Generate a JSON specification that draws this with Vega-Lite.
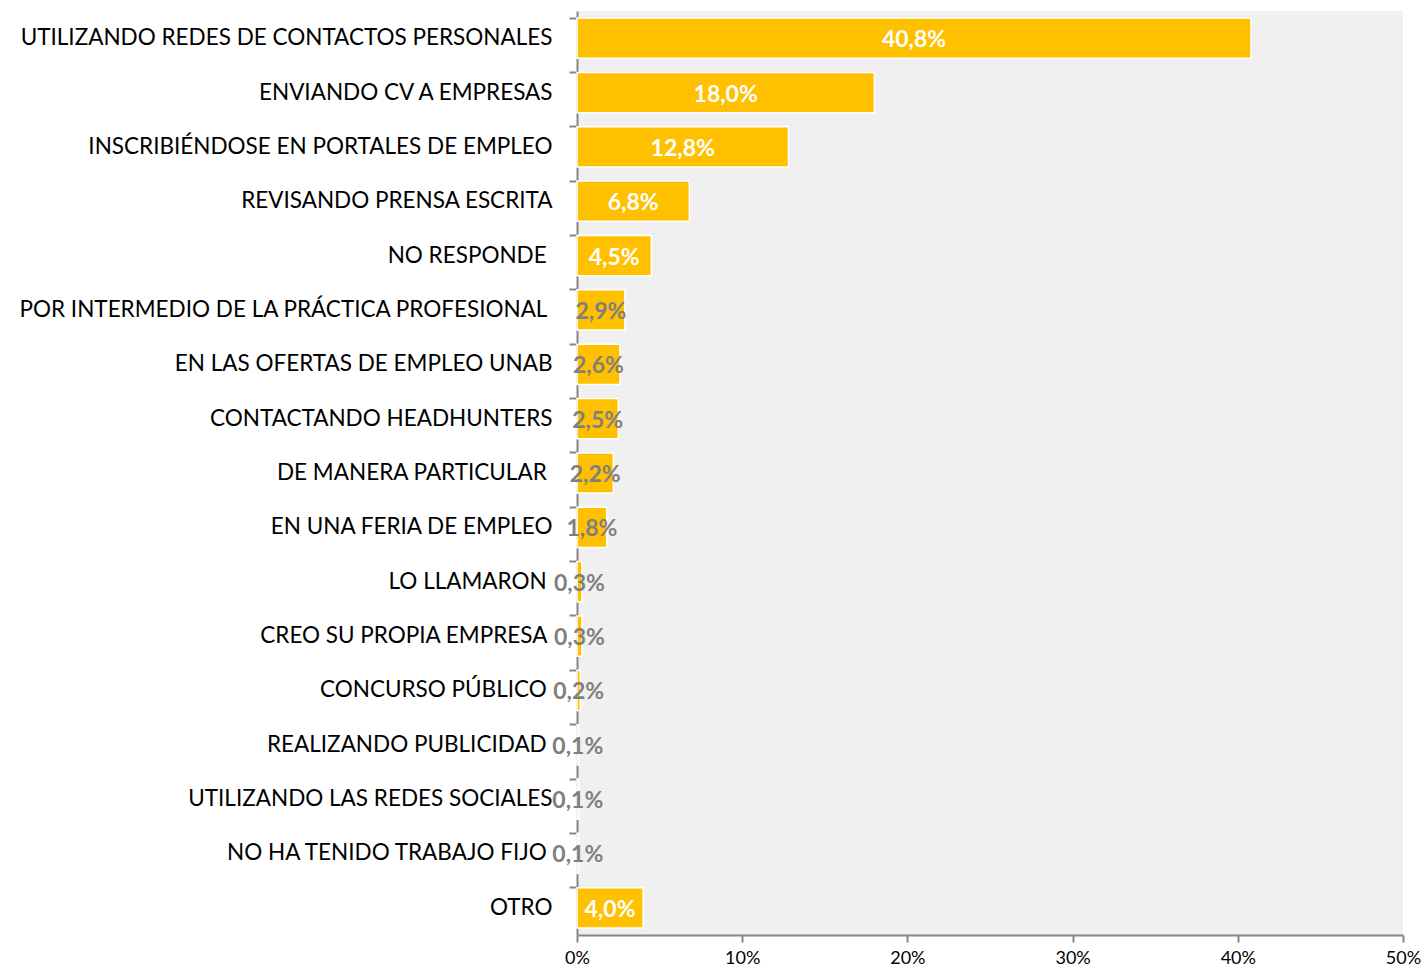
{
  "$schema": "https://vega.github.io/schema/vega-lite/v6.json",
  "width": 826,
  "height": 924,
  "padding": {"left": 17, "top": 11, "right": 21, "bottom": 5},
  "autosize": {"type": "pad"},
  "background": "white",
  "config": {
    "view": {"fill": "#f0f0f0", "stroke": null},
    "locale": {"number": {"decimal": ",", "thousands": ".", "grouping": [3], "currency": ["", " €"]}}
  },
  "data": {
    "values": [
      {"c": "UTILIZANDO REDES DE CONTACTOS PERSONALES", "v": 0.408},
      {"c": "ENVIANDO CV A EMPRESAS", "v": 0.180},
      {"c": "INSCRIBIÉNDOSE EN PORTALES DE EMPLEO", "v": 0.128},
      {"c": "REVISANDO PRENSA ESCRITA", "v": 0.068},
      {"c": "NO RESPONDE\u00a0\u200b", "v": 0.045},
      {"c": "POR INTERMEDIO DE LA PRÁCTICA PROFESIONAL\u00a0\u200b", "v": 0.029},
      {"c": "EN LAS OFERTAS DE EMPLEO UNAB", "v": 0.026},
      {"c": "CONTACTANDO HEADHUNTERS", "v": 0.025},
      {"c": "DE MANERA PARTICULAR\u00a0\u200b", "v": 0.022},
      {"c": "EN UNA FERIA DE EMPLEO", "v": 0.018},
      {"c": "LO LLAMARON\u00a0\u200b", "v": 0.003},
      {"c": "CREO SU PROPIA EMPRESA\u00a0\u200b", "v": 0.003},
      {"c": "CONCURSO PÚBLICO\u00a0\u200b", "v": 0.002},
      {"c": "REALIZANDO PUBLICIDAD\u00a0\u200b", "v": 0.001},
      {"c": "UTILIZANDO LAS REDES SOCIALES", "v": 0.001},
      {"c": "NO HA TENIDO TRABAJO FIJO\u00a0\u200b", "v": 0.001},
      {"c": "OTRO", "v": 0.040}
    ]
  },
  "encoding": {
    "y": {
      "field": "c",
      "type": "nominal",
      "sort": null,
      "scale": {"paddingInner": 0.26, "paddingOuter": 0.13},
      "axis": {
        "title": null,
        "bandPosition": 0,
        "tickSize": 8,
        "tickWidth": 2,
        "tickColor": "#868686",
        "domainColor": "#868686",
        "domainWidth": 2,
        "labelPadding": 17,
        "labelFont": "Lato",
        "labelFontSize": 22.5,
        "labelColor": "#000000",
        "labelLimit": 0
      }
    }
  },
  "layer": [
    {
      "mark": {"type": "bar", "color": "#FFC000", "stroke": "white", "strokeWidth": 1.5},
      "encoding": {
        "x": {
          "field": "v",
          "type": "quantitative",
          "scale": {"domain": [0, 0.5], "nice": false},
          "axis": {
            "title": null,
            "format": ".0%",
            "values": [0, 0.1, 0.2, 0.3, 0.4, 0.5],
            "grid": false,
            "labelFlush": false,
            "tickSize": 7,
            "tickWidth": 2,
            "tickColor": "#868686",
            "domainColor": "#868686",
            "domainWidth": 2,
            "labelPadding": 7,
            "labelFont": "Lato",
            "labelFontSize": 18,
            "labelColor": "#000000"
          }
        }
      }
    },
    {
      "transform": [{"calculate": "datum.v / 2", "as": "mid"}],
      "mark": {"type": "text", "font": "Lato", "fontSize": 23, "fontWeight": "bold", "align": "center", "baseline": "middle", "dy": 2},
      "encoding": {
        "x": {"field": "mid", "type": "quantitative"},
        "text": {"field": "v", "type": "quantitative", "format": ".1%"},
        "color": {
          "condition": {"test": "datum.v >= 0.04", "value": "#ffffff"},
          "value": "#7f7f7f"
        }
      }
    }
  ]
}
